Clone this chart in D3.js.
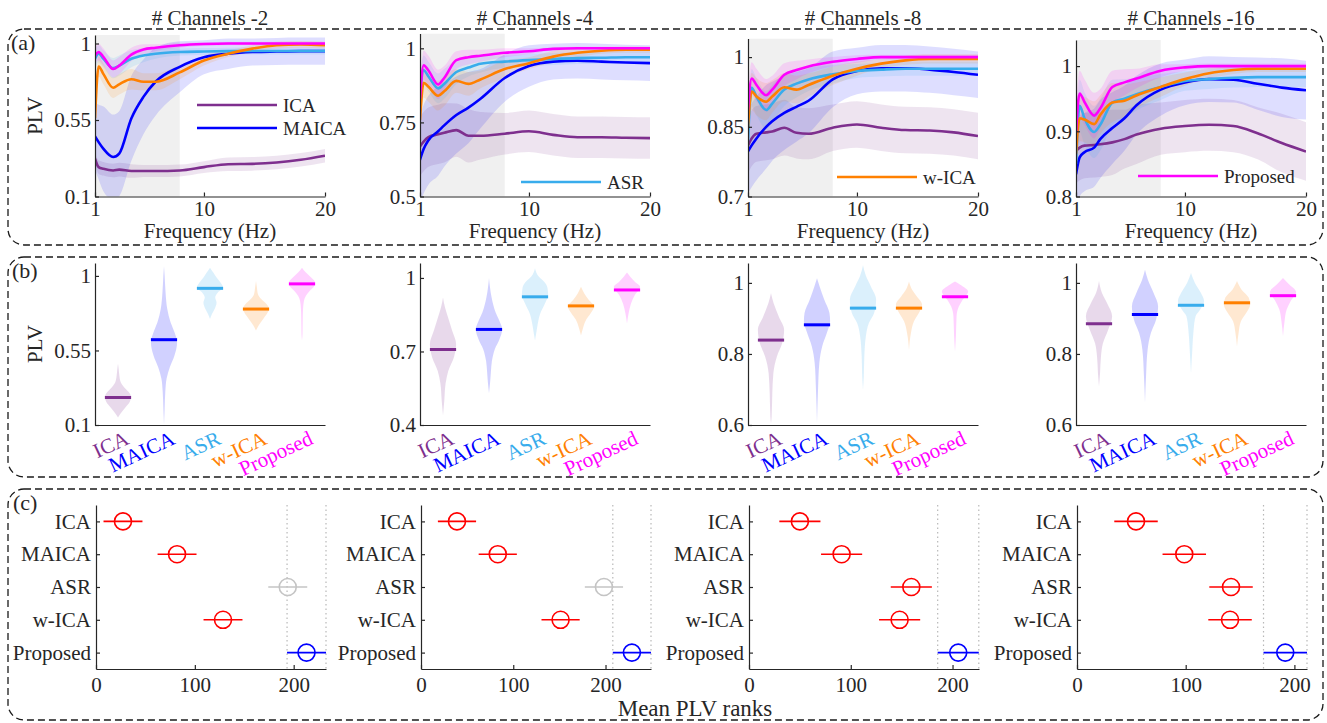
<!DOCTYPE html>
<html>
<head>
<meta charset="utf-8" />
<title>PLV comparison across channel counts</title>
<script src="https://d3js.org/d3.v7.min.js"></script>
<style>
  body { margin: 0; background: #fff; }
  svg text { font-family: "Liberation Serif", "Times New Roman", serif; fill: #262626; }
  .axis path, .axis line { stroke: #262626; stroke-width: 1.2; }
  .axis text { font-size: 21px; }
</style>
</head>
<body>
<script>
// - - - - - DATA - - - - - //
var methods = ["ICA", "MAICA", "ASR", "w-ICA", "Proposed"];
var colors  = ["#7E2F8E", "#0000FF", "#38ACEC", "#FF8000", "#FF00FF"];
var channels = [2, 4, 8, 16];

// (a) mean PLV vs frequency, one row per method
var freq = [1, 1.3, 1.7, 2.5, 3, 4, 5, 6, 8, 10, 12, 14, 16, 18, 20];

var plvCh2 = [
  [0.322, 0.273, 0.263, 0.253, 0.258, 0.25, 0.25, 0.25, 0.253, 0.273, 0.29, 0.292, 0.30, 0.316, 0.34],
  [0.454, 0.42, 0.38, 0.332, 0.352, 0.559, 0.686, 0.775, 0.863, 0.919, 0.94, 0.95, 0.953, 0.955, 0.955],
  [0.91, 0.94, 0.91, 0.855, 0.87, 0.91, 0.93, 0.94, 0.95, 0.953, 0.955, 0.956, 0.956, 0.956, 0.956],
  [0.56, 0.865, 0.82, 0.74, 0.76, 0.79, 0.775, 0.775, 0.83, 0.90, 0.94, 0.97, 0.99, 0.995, 0.99],
  [0.93, 0.95, 0.92, 0.85, 0.87, 0.935, 0.965, 0.975, 0.99, 0.997, 1.0, 1.0, 1.0, 1.0, 1.0]
];
var sdCh2 = [
  [0.03, 0.04, 0.04, 0.04, 0.04, 0.04, 0.035, 0.035, 0.035, 0.035, 0.04, 0.04, 0.04, 0.04, 0.04],
  [0.2, 0.22, 0.25, 0.25, 0.25, 0.25, 0.22, 0.2, 0.15, 0.1, 0.09, 0.08, 0.08, 0.08, 0.08],
  [0.06, 0.05, 0.05, 0.06, 0.06, 0.05, 0.04, 0.03, 0.02, 0.02, 0.02, 0.02, 0.02, 0.02, 0.02],
  [0.06, 0.06, 0.06, 0.06, 0.06, 0.06, 0.05, 0.05, 0.04, 0.03, 0.02, 0.02, 0.02, 0.02, 0.02],
  [0.05, 0.05, 0.05, 0.05, 0.05, 0.04, 0.03, 0.02, 0.015, 0.01, 0.01, 0.01, 0.01, 0.01, 0.01]
];

var plvCh4 = [
  [0.669, 0.685, 0.70, 0.71, 0.715, 0.724, 0.705, 0.705, 0.712, 0.72, 0.708, 0.70, 0.70, 0.698, 0.697],
  [0.624, 0.66, 0.69, 0.72, 0.74, 0.775, 0.80, 0.83, 0.90, 0.94, 0.955, 0.958, 0.955, 0.952, 0.95],
  [0.84, 0.926, 0.905, 0.865, 0.88, 0.92, 0.935, 0.948, 0.955, 0.96, 0.964, 0.967, 0.968, 0.97, 0.97],
  [0.758, 0.884, 0.87, 0.84, 0.855, 0.89, 0.88, 0.895, 0.93, 0.95, 0.972, 0.985, 0.992, 0.995, 0.995],
  [0.83, 0.943, 0.925, 0.878, 0.90, 0.96, 0.97, 0.975, 0.985, 0.99, 0.998, 1.0, 1.0, 1.0, 1.0]
];
var sdCh4 = [
  [0.1, 0.1, 0.1, 0.1, 0.1, 0.09, 0.09, 0.08, 0.07, 0.07, 0.07, 0.07, 0.07, 0.07, 0.07],
  [0.15, 0.15, 0.15, 0.15, 0.14, 0.13, 0.12, 0.1, 0.08, 0.07, 0.06, 0.06, 0.06, 0.06, 0.06],
  [0.06, 0.05, 0.05, 0.05, 0.05, 0.04, 0.03, 0.03, 0.02, 0.02, 0.02, 0.02, 0.02, 0.02, 0.02],
  [0.06, 0.05, 0.05, 0.05, 0.05, 0.04, 0.04, 0.03, 0.03, 0.02, 0.02, 0.015, 0.01, 0.01, 0.01],
  [0.05, 0.05, 0.05, 0.05, 0.04, 0.03, 0.025, 0.02, 0.015, 0.01, 0.005, 0.005, 0.005, 0.005, 0.005]
];

var plvCh8 = [
  [0.81, 0.825, 0.835, 0.838, 0.84, 0.848, 0.837, 0.835, 0.848, 0.855, 0.848, 0.843, 0.842, 0.838, 0.83],
  [0.797, 0.81, 0.825, 0.85, 0.862, 0.88, 0.893, 0.906, 0.952, 0.97, 0.976, 0.976, 0.973, 0.968, 0.962],
  [0.82, 0.934, 0.915, 0.886, 0.90, 0.93, 0.943, 0.952, 0.963, 0.97, 0.973, 0.975, 0.975, 0.975, 0.975],
  [0.85, 0.926, 0.915, 0.904, 0.915, 0.935, 0.93, 0.94, 0.96, 0.975, 0.986, 0.993, 0.996, 0.996, 0.996],
  [0.886, 0.954, 0.94, 0.918, 0.93, 0.962, 0.972, 0.98, 0.99, 0.996, 1.0, 1.0, 1.0, 1.0, 1.0]
];
var sdCh8 = [
  [0.06, 0.06, 0.06, 0.06, 0.06, 0.06, 0.055, 0.055, 0.05, 0.05, 0.05, 0.05, 0.05, 0.05, 0.05],
  [0.09, 0.09, 0.09, 0.09, 0.085, 0.08, 0.075, 0.07, 0.06, 0.05, 0.05, 0.05, 0.05, 0.05, 0.05],
  [0.05, 0.04, 0.04, 0.04, 0.04, 0.035, 0.03, 0.025, 0.02, 0.015, 0.015, 0.015, 0.015, 0.015, 0.015],
  [0.05, 0.04, 0.04, 0.04, 0.035, 0.03, 0.03, 0.025, 0.02, 0.015, 0.01, 0.01, 0.01, 0.01, 0.01],
  [0.04, 0.035, 0.035, 0.035, 0.03, 0.025, 0.02, 0.015, 0.01, 0.008, 0.005, 0.005, 0.005, 0.005, 0.005]
];

var plvCh16 = [
  [0.87, 0.875, 0.878, 0.879, 0.88, 0.883, 0.888, 0.895, 0.904, 0.908, 0.91, 0.908, 0.897, 0.882, 0.869],
  [0.834, 0.86, 0.868, 0.875, 0.888, 0.905, 0.92, 0.94, 0.964, 0.975, 0.98, 0.979, 0.973, 0.967, 0.963],
  [0.85, 0.939, 0.92, 0.899, 0.91, 0.944, 0.95, 0.957, 0.968, 0.977, 0.98, 0.982, 0.983, 0.983, 0.983],
  [0.865, 0.92, 0.918, 0.911, 0.925, 0.944, 0.947, 0.955, 0.968, 0.98, 0.989, 0.994, 0.996, 0.996, 0.996],
  [0.898, 0.958, 0.945, 0.924, 0.935, 0.968, 0.975, 0.981, 0.993, 0.998, 1.0, 1.0, 1.0, 1.0, 1.0]
];
var sdCh16 = [
  [0.05, 0.05, 0.05, 0.05, 0.05, 0.05, 0.045, 0.045, 0.04, 0.04, 0.04, 0.04, 0.04, 0.045, 0.045],
  [0.06, 0.06, 0.06, 0.06, 0.06, 0.055, 0.05, 0.045, 0.04, 0.035, 0.035, 0.035, 0.04, 0.045, 0.045],
  [0.05, 0.04, 0.04, 0.04, 0.04, 0.035, 0.03, 0.025, 0.02, 0.015, 0.015, 0.015, 0.015, 0.015, 0.015],
  [0.04, 0.035, 0.035, 0.035, 0.03, 0.03, 0.025, 0.02, 0.015, 0.01, 0.008, 0.006, 0.005, 0.005, 0.005],
  [0.04, 0.035, 0.035, 0.035, 0.03, 0.025, 0.02, 0.015, 0.01, 0.005, 0.004, 0.004, 0.004, 0.004, 0.004]
];

var plvYDomain = [[0.1, 1.05], [0.5, 1.05], [0.7, 1.04], [0.8, 1.04]];
var plvYTicks  = [[0.1, 0.55, 1], [0.5, 0.75, 1], [0.7, 0.85, 1], [0.8, 0.9, 1]];
var freqTicks  = [1, 10, 20];
var shadeHz    = [1, 8];

// (b) violin outlines: [PLV, relative density], plus medians
var violinCh2 = [
  [[0.145, 0], [0.17, 0.2], [0.2, 0.5], [0.24, 0.9], [0.27, 1], [0.3, 0.8], [0.33, 0.45], [0.36, 0.2], [0.4, 0.1], [0.44, 0.05], [0.47, 0]],
  [[0.1, 0], [0.2, 0.05], [0.3, 0.1], [0.38, 0.2], [0.45, 0.45], [0.52, 0.8], [0.6, 1], [0.66, 0.8], [0.72, 0.5], [0.8, 0.25], [0.9, 0.12], [1.0, 0.05], [1.06, 0]],
  [[0.74, 0], [0.77, 0.15], [0.8, 0.35], [0.84, 0.5], [0.87, 0.4], [0.9, 0.6], [0.93, 1], [0.96, 0.8], [0.99, 0.5], [1.02, 0.25], [1.05, 0]],
  [[0.67, 0], [0.7, 0.2], [0.74, 0.55], [0.78, 0.9], [0.8, 1], [0.83, 0.8], [0.86, 0.4], [0.89, 0.15], [0.93, 0.07], [0.97, 0]],
  [[0.61, 0], [0.65, 0.04], [0.7, 0.05], [0.75, 0.06], [0.8, 0.08], [0.85, 0.15], [0.88, 0.3], [0.91, 0.6], [0.94, 0.95], [0.96, 1], [0.99, 0.7], [1.02, 0.3], [1.05, 0]]
];
var violinCh4 = [
  [[0.44, 0], [0.5, 0.1], [0.57, 0.2], [0.62, 0.4], [0.68, 0.85], [0.73, 1], [0.785, 0.7], [0.84, 0.38], [0.88, 0.15], [0.92, 0]],
  [[0.53, 0], [0.57, 0.08], [0.62, 0.15], [0.66, 0.22], [0.71, 0.45], [0.75, 0.8], [0.79, 1], [0.83, 0.75], [0.86, 0.5], [0.92, 0.2], [0.96, 0.08], [1.0, 0]],
  [[0.745, 0], [0.77, 0.08], [0.81, 0.2], [0.855, 0.4], [0.895, 0.75], [0.93, 1], [0.96, 0.95], [0.985, 0.7], [1.005, 0.3], [1.04, 0]],
  [[0.765, 0], [0.795, 0.15], [0.83, 0.4], [0.857, 0.75], [0.884, 1], [0.91, 0.6], [0.937, 0.25], [0.964, 0]],
  [[0.814, 0], [0.855, 0.12], [0.895, 0.3], [0.93, 0.6], [0.964, 1], [0.985, 0.6], [1.005, 0.25], [1.022, 0]]
];
var violinCh8 = [
  [[0.605, 0], [0.624, 0.05], [0.69, 0.1], [0.746, 0.18], [0.793, 0.45], [0.83, 0.85], [0.868, 1], [0.905, 0.6], [0.943, 0.2], [0.971, 0]],
  [[0.605, 0], [0.7, 0.08], [0.775, 0.18], [0.822, 0.4], [0.859, 0.75], [0.892, 1], [0.915, 0.95], [0.953, 0.55], [0.99, 0.2], [1.013, 0]],
  [[0.699, 0], [0.737, 0.06], [0.793, 0.1], [0.85, 0.22], [0.887, 0.45], [0.915, 0.85], [0.953, 1], [0.99, 0.6], [1.02, 0.22], [1.05, 0]],
  [[0.811, 0], [0.859, 0.15], [0.892, 0.38], [0.915, 0.75], [0.939, 1], [0.962, 0.6], [0.98, 0.25], [1.004, 0]],
  [[0.806, 0], [0.85, 0.07], [0.906, 0.12], [0.934, 0.3], [0.953, 0.6], [0.976, 1], [0.995, 0.4], [1.004, 0]]
];
var violinCh16 = [
  [[0.709, 0], [0.746, 0.08], [0.793, 0.15], [0.83, 0.3], [0.868, 0.7], [0.906, 1], [0.944, 0.6], [0.972, 0.22], [1.005, 0]],
  [[0.662, 0], [0.737, 0.08], [0.812, 0.2], [0.859, 0.45], [0.897, 0.85], [0.934, 1], [0.972, 0.65], [1.009, 0.22], [1.037, 0]],
  [[0.746, 0], [0.812, 0.1], [0.868, 0.2], [0.906, 0.35], [0.925, 0.7], [0.948, 1], [0.972, 0.75], [1.0, 0.3], [1.028, 0]],
  [[0.821, 0], [0.859, 0.12], [0.892, 0.3], [0.915, 0.7], [0.939, 1], [0.958, 0.9], [0.981, 0.35], [1.005, 0]],
  [[0.85, 0], [0.892, 0.12], [0.925, 0.28], [0.95, 0.6], [0.974, 1], [0.998, 0.4], [1.014, 0]]
];
var medianCh2  = [0.266, 0.615, 0.925, 0.80, 0.952];
var medianCh4  = [0.708, 0.79, 0.923, 0.886, 0.951];
var medianCh8  = [0.839, 0.882, 0.929, 0.929, 0.961];
var medianCh16 = [0.885, 0.911, 0.937, 0.944, 0.964];
var violinYDomain = [[0.1, 1.078], [0.4, 1.061], [0.6, 1.056], [0.6, 1.056]];
var violinYTicks  = [[0.1, 0.55, 1], [0.4, 0.7, 1], [0.6, 0.8, 1], [0.6, 0.8, 1]];

// (c) mean PLV ranks with comparison intervals
var rankCh2  = [27.3, 82, 194, 128.5, 213];
var rankCh4  = [39, 83.2, 198.3, 151.3, 228.6];
var rankCh8  = [50, 91, 159.5, 148, 205.6];
var rankCh16 = [54.3, 98.7, 141.7, 140.8, 191.6];
var rankHalfWidth = [19.7, 20.7, 20.2, 20];
var rankXMax = [232.7, 249.3, 226, 211.6];
var rankTicks = [0, 100, 200];

var plvByCh = [plvCh2, plvCh4, plvCh8, plvCh16];
var sdByCh = [sdCh2, sdCh4, sdCh8, sdCh16];
var violinByCh = [violinCh2, violinCh4, violinCh8, violinCh16];
var medianByCh = [medianCh2, medianCh4, medianCh8, medianCh16];
var rankByCh = [rankCh2, rankCh4, rankCh8, rankCh16];

// - - - - - LAYOUT - - - - - //
var width = 1327, height = 723;
var axLeft = [95, 420, 748, 1076], axW = 230;
var aTop = [35, 33.5, 38.5, 40], aBottom = 196.5;
var bTop = 263, bBottom = 425;
var cTop = 505, cBottom = 669;

var svg = d3.select("body").append("svg")
    .attr("width", width)
    .attr("height", height);

// dashed rounded frames round each row
[[29, 216], [257, 220], [489, 231]].forEach(function(b) {
  svg.append("rect")
    .attr("x", 8).attr("y", b[0])
    .attr("width", 1315).attr("height", b[1])
    .attr("rx", 16).attr("ry", 16)
    .attr("fill", "none")
    .attr("stroke", "#1a1a1a")
    .attr("stroke-width", 1.3)
    .attr("stroke-dasharray", "7,4");
});

svg.append("text").attr("x", 11).attr("y", 50).style("font-size", "22px").text("(a)");
svg.append("text").attr("x", 12).attr("y", 278).style("font-size", "22px").text("(b)");
svg.append("text").attr("x", 13).attr("y", 510).style("font-size", "22px").text("(c)");

function styleAxis(g) {
  g.attr("class", "axis");
  g.selectAll("text").style("font-size", "21px");
}

function clipFor(id, x0, y0, x1, y1) {
  svg.append("clipPath").attr("id", id)
    .append("rect").attr("x", x0).attr("y", y0)
    .attr("width", x1 - x0).attr("height", y1 - y0);
  return "url(#" + id + ")";
}

// legend entries spread over the four frequency panels
var legendItems = [[0, 1], [2], [3], [4]];
var legendX = [102, 101, 89, 62];
var legendY = [[105, 128], [182], [177], [176]];

channels.forEach(function(ch, p) {
  var left = axLeft[p], right = left + axW;

  // ---------- (a) PLV spectrum ----------
  var x = d3.scaleLinear().domain([1, 20]).range([left, right]);
  var y = d3.scaleLinear().domain(plvYDomain[p]).range([aBottom, aTop[p]]);
  var clip = clipFor("clipA" + p, left, aTop[p], right, aBottom);
  var ga = svg.append("g").attr("clip-path", clip);

  ga.append("rect")
    .attr("x", x(shadeHz[0])).attr("y", aTop[p])
    .attr("width", x(shadeHz[1]) - x(shadeHz[0]))
    .attr("height", aBottom - aTop[p])
    .attr("fill", "#f0f0f0");

  var plv = plvByCh[p], sd = sdByCh[p];
  var band = d3.area()
      .x(function(d) { return x(d.f); })
      .y0(function(d) { return y(d.v - d.s); })
      .y1(function(d) { return y(d.v + d.s); })
      .curve(d3.curveMonotoneX);
  var line = d3.line()
      .x(function(d) { return x(d.f); })
      .y(function(d) { return y(d.v); })
      .curve(d3.curveMonotoneX);

  var series = plv.map(function(vals, m) {
    return vals.map(function(v, i) { return {f: freq[i], v: v, s: sd[m][i]}; });
  });

  series.forEach(function(s, m) {
    ga.append("path").attr("d", band(s))
      .attr("fill", colors[m]).attr("fill-opacity", 0.13);
  });
  series.forEach(function(s, m) {
    ga.append("path").attr("d", line(s))
      .attr("fill", "none").attr("stroke", colors[m])
      .attr("stroke-width", 2.6).attr("stroke-linejoin", "round");
  });

  svg.append("g")
    .attr("transform", "translate(0," + aBottom + ")")
    .call(d3.axisBottom(x).tickValues(freqTicks).tickSizeInner(-4).tickSizeOuter(0).tickPadding(5))
    .call(styleAxis);
  svg.append("g")
    .attr("transform", "translate(" + left + ",0)")
    .call(d3.axisLeft(y).tickValues(plvYTicks[p]).tickFormat(String).tickSizeInner(-4).tickSizeOuter(0).tickPadding(4))
    .call(styleAxis);

  svg.append("text")
    .attr("x", (left + right) / 2).attr("y", 25)
    .attr("text-anchor", "middle").style("font-size", "21px")
    .text("# Channels -" + ch);
  svg.append("text")
    .attr("x", (left + right) / 2).attr("y", 238)
    .attr("text-anchor", "middle").style("font-size", "21px")
    .text("Frequency (Hz)");

  legendItems[p].forEach(function(m, k) {
    var ly = legendY[p][k], lx = left + legendX[p];
    svg.append("line")
      .attr("x1", lx).attr("x2", lx + 80)
      .attr("y1", ly).attr("y2", ly)
      .attr("stroke", colors[m]).attr("stroke-width", 2.6);
    svg.append("text")
      .attr("x", lx + 86).attr("y", ly).attr("dy", "0.35em")
      .style("font-size", "19px").text(methods[m]);
  });

  // ---------- (b) violins ----------
  var xb = d3.scalePoint().domain(methods).range([left, right]).padding(0.5);
  var yb = d3.scaleLinear().domain(violinYDomain[p]).range([bBottom, bTop]);
  var half = xb.step() * 0.285;
  var clipB = clipFor("clipB" + p, left, bTop, right, bBottom);
  var gb = svg.append("g").attr("clip-path", clipB);

  violinByCh[p].forEach(function(prof, m) {
    var cx = xb(methods[m]);
    var area = d3.area()
        .y(function(d) { return yb(d[0]); })
        .x0(function(d) { return cx - d[1] * half; })
        .x1(function(d) { return cx + d[1] * half; })
        .curve(d3.curveMonotoneY);
    gb.append("path").attr("d", area(prof))
      .attr("fill", colors[m]).attr("fill-opacity", 0.18);
    gb.append("line")
      .attr("x1", cx - half).attr("x2", cx + half)
      .attr("y1", yb(medianByCh[p][m])).attr("y2", yb(medianByCh[p][m]))
      .attr("stroke", colors[m]).attr("stroke-width", 3);
  });

  var bx = svg.append("g")
    .attr("transform", "translate(0," + bBottom + ")")
    .call(d3.axisBottom(xb).tickSizeInner(0).tickSizeOuter(0))
    .call(styleAxis);
  bx.selectAll(".tick text")
    .attr("x", 0).attr("y", 0).attr("dy", "0.75em")
    .attr("text-anchor", "end")
    .attr("transform", "translate(5,4) rotate(-25)")
    .style("fill", function(d, i) { return colors[i]; });
  svg.append("g")
    .attr("transform", "translate(" + left + ",0)")
    .call(d3.axisLeft(yb).tickValues(violinYTicks[p]).tickFormat(String).tickSizeInner(-4).tickSizeOuter(0).tickPadding(4))
    .call(styleAxis);

  // ---------- (c) rank comparison ----------
  var cl = left + 1;
  var xc = d3.scaleLinear().domain([0, rankXMax[p]]).range([cl, cl + axW]);
  var yc = d3.scalePoint().domain(methods).range([cTop, cBottom]).padding(0.5);
  var ranks = rankByCh[p], hw = rankHalfWidth[p];
  var best = ranks[4];

  [best - hw, best + hw].forEach(function(v) {
    svg.append("line")
      .attr("x1", xc(v)).attr("x2", xc(v))
      .attr("y1", cTop).attr("y2", cBottom)
      .attr("stroke", "#b8b8b8").attr("stroke-width", 1.2)
      .attr("stroke-dasharray", "1.5,3");
  });

  ranks.forEach(function(r, m) {
    var col = m === 4 ? "#0000FF"
      : (r + hw >= best - hw ? "#c4c4c4" : "#FF0000");
    var cy = yc(methods[m]);
    svg.append("line")
      .attr("x1", xc(r - hw)).attr("x2", xc(r + hw))
      .attr("y1", cy).attr("y2", cy)
      .attr("stroke", col).attr("stroke-width", 1.6);
    svg.append("circle")
      .attr("cx", xc(r)).attr("cy", cy).attr("r", 8.5)
      .attr("fill", "none").attr("stroke", col).attr("stroke-width", 1.6);
  });

  svg.append("g")
    .attr("transform", "translate(0," + cBottom + ")")
    .call(d3.axisBottom(xc).tickValues(rankTicks).tickSizeInner(-4).tickSizeOuter(0).tickPadding(8))
    .call(styleAxis);
  svg.append("g")
    .attr("transform", "translate(" + cl + ",0)")
    .call(d3.axisLeft(yc).tickSizeInner(-4).tickSizeOuter(0).tickPadding(5))
    .call(styleAxis);
});

// shared y labels and rank axis label
svg.append("text")
  .attr("transform", "translate(42," + ((aTop[0] + aBottom) / 2) + ") rotate(-90)")
  .attr("text-anchor", "middle").style("font-size", "21px").text("PLV");
svg.append("text")
  .attr("transform", "translate(42," + ((bTop + bBottom) / 2) + ") rotate(-90)")
  .attr("text-anchor", "middle").style("font-size", "21px").text("PLV");
svg.append("text")
  .attr("x", 695).attr("y", 716)
  .attr("text-anchor", "middle").style("font-size", "23px")
  .text("Mean PLV ranks");
</script>
</body>
</html>
